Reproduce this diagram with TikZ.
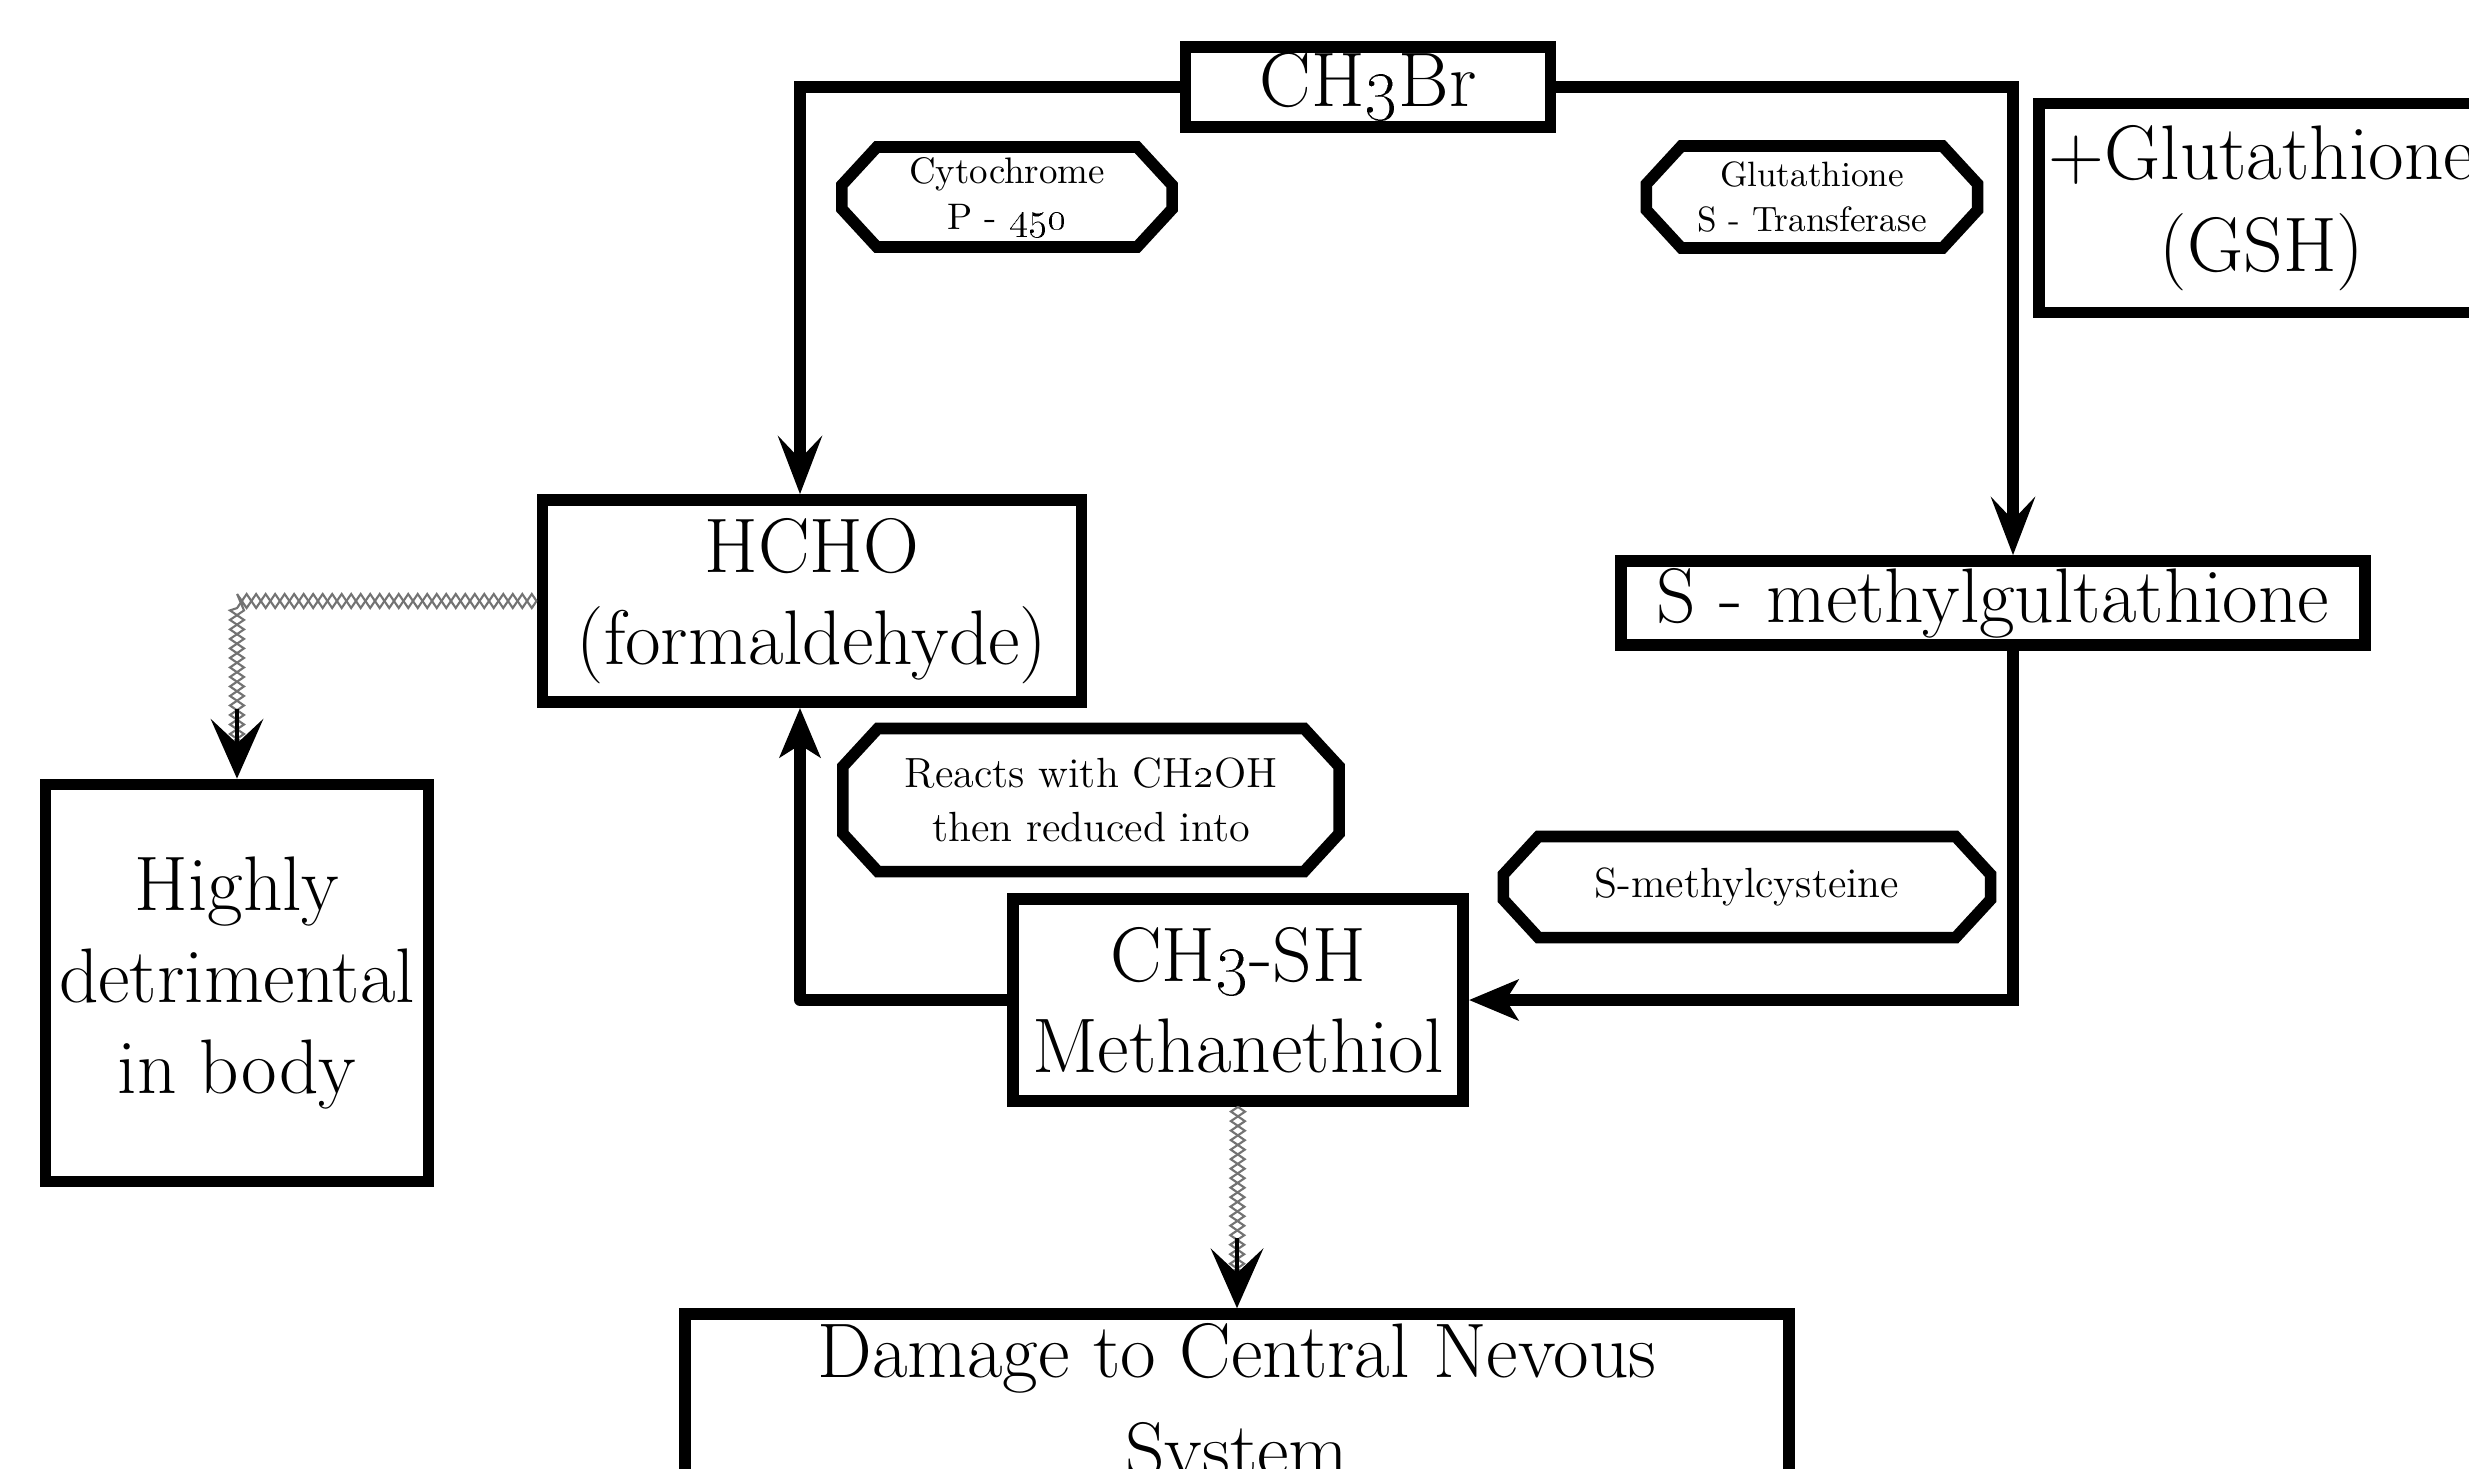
\documentclass[tikz,border=0pt]{standalone}
\usetikzlibrary{arrows.meta,calc,decorations.pathmorphing}
\definecolor{chaincol}{RGB}{115,115,115}
\newcommand\hexbox[1]{%
  \draw[hexline] ($(#1.north west)+(35,0)$) -- ($(#1.north east)+(-35,0)$)
    -- ($(#1.north east)+(0,38)$) -- ($(#1.south east)+(0,-38)$)
    -- ($(#1.south east)+(-35,0)$) -- ($(#1.south west)+(35,0)$)
    -- ($(#1.south west)+(0,-38)$) -- ($(#1.north west)+(0,38)$) -- cycle;}
\begin{document}
\begin{tikzpicture}[x=0.01cm,y=-0.01cm,
  box/.style={draw, line width=3.3pt, inner sep=0pt, align=center, font=\fontsize{22}{26}\selectfont},
  tag/.style={inner sep=0pt, outer sep=0pt, align=center},
  hexline/.style={line width=3.3pt, line join=miter},
  conn/.style={line width=3.3pt},
  tipbig/.style={-{Stealth[length=16.5pt,width=12.5pt,inset=6.5pt]}},
  tipmid/.style={-{Stealth[length=14pt,width=11.5pt,inset=3.5pt]}},
  tipchain/.style={-{Stealth[length=17pt,width=15pt,inset=7pt]}},
  chainA/.style={draw=chaincol, line width=0.6pt, decorate, decoration={zigzag, segment length=0.19cm, amplitude=0.07cm}},
  chainB/.style={draw=chaincol, line width=0.6pt, decorate, decoration={zigzag, segment length=0.19cm, amplitude=0.07cm, mirror}}
]
\useasboundingbox (0,0) rectangle (2469,1468);
\fill[white] (0,0) rectangle (2469,1468);
\clip (0,0) rectangle (2469,1468);

% boxes
\node[box, minimum width=3.65cm, minimum height=0.80cm] (ch3br) at (1368,87) {CH\oldstylenums{3}Br};
\node[box, minimum width=5.39cm, minimum height=2.02cm] (hcho) at (812,601) {HCHO\\(formaldehyde)};
\node[box, minimum width=4.46cm, minimum height=2.09cm] (gsh) at (2262,208) {+Glutathione\\(GSH)};
\node[box, minimum width=7.44cm, minimum height=0.84cm] (smg) at (1993,603) {S - methylgultathione};
\node[box, minimum width=4.50cm, minimum height=2.02cm] (ch3sh) at (1238,1000) {CH\oldstylenums{3}-SH\\Methanethiol};
\node[box, minimum width=3.83cm, minimum height=3.97cm] (high) at (237,983) {Highly\\detrimental\\in body};
\node[box, minimum width=11.03cm, minimum height=1.88cm, font=\fontsize{22}{28}\selectfont] (cns) at (1237,1408) {Damage to Central Nevous\\System};

% chamfered labels
\node[tag, minimum width=3.30cm, minimum height=1.00cm, font=\fontsize{10.5}{13}\selectfont] (cyt) at (1007,197) {Cytochrome\\P - \oldstylenums{450}};
\node[tag, minimum width=3.31cm, minimum height=1.02cm, font=\fontsize{10}{13}\selectfont] (gst) at (1812,197) {Glutathione\\S - Transferase};
\node[tag, minimum width=4.96cm, minimum height=1.43cm, font=\fontsize{12}{15.4}\selectfont] (react) at (1091,800) {Reacts with CH\oldstylenums{2}OH\\then reduced into};
\node[tag, minimum width=4.87cm, minimum height=1.01cm, font=\fontsize{12}{15}\selectfont] (smc) at (1747,887) {S-methylcysteine};
\hexbox{cyt}
\hexbox{gst}
\hexbox{react}
\hexbox{smc}

% connectors
\coordinate (tl) at (800,87);
\coordinate (tr) at (2013,87);
\coordinate (br) at (2013,1000);
\coordinate (bl) at (800,1000);
\draw[conn,tipbig] (ch3br.west) -- (tl) -- (tl |- hcho.north);
\draw[conn,tipbig] (ch3br.east) -- (tr) -- (tr |- smg.north);
\draw[conn,tipmid] (tr |- smg.south) -- (br) -- (ch3sh.east);
\draw[conn,tipmid,line join=round] (ch3sh.west) -- (bl) -- (bl |- hcho.south);

% chains
\coordinate (hc) at (hcho.west -| high.north);
\draw[chainA] (hcho.west) -- (hc) -- ($(high.north)+(0,-25)$);
\draw[chainB] (hcho.west) -- (hc) -- ($(high.north)+(0,-25)$);
\draw[line width=1pt, tipchain] ($(high.north)+(0,-70)$) -- (high.north);

\draw[chainA] (ch3sh.south) -- ($(cns.north)+(0,-25)$);
\draw[chainB] (ch3sh.south) -- ($(cns.north)+(0,-25)$);
\draw[line width=1pt, tipchain] ($(cns.north)+(0,-70)$) -- (cns.north);
\end{tikzpicture}
\end{document}
